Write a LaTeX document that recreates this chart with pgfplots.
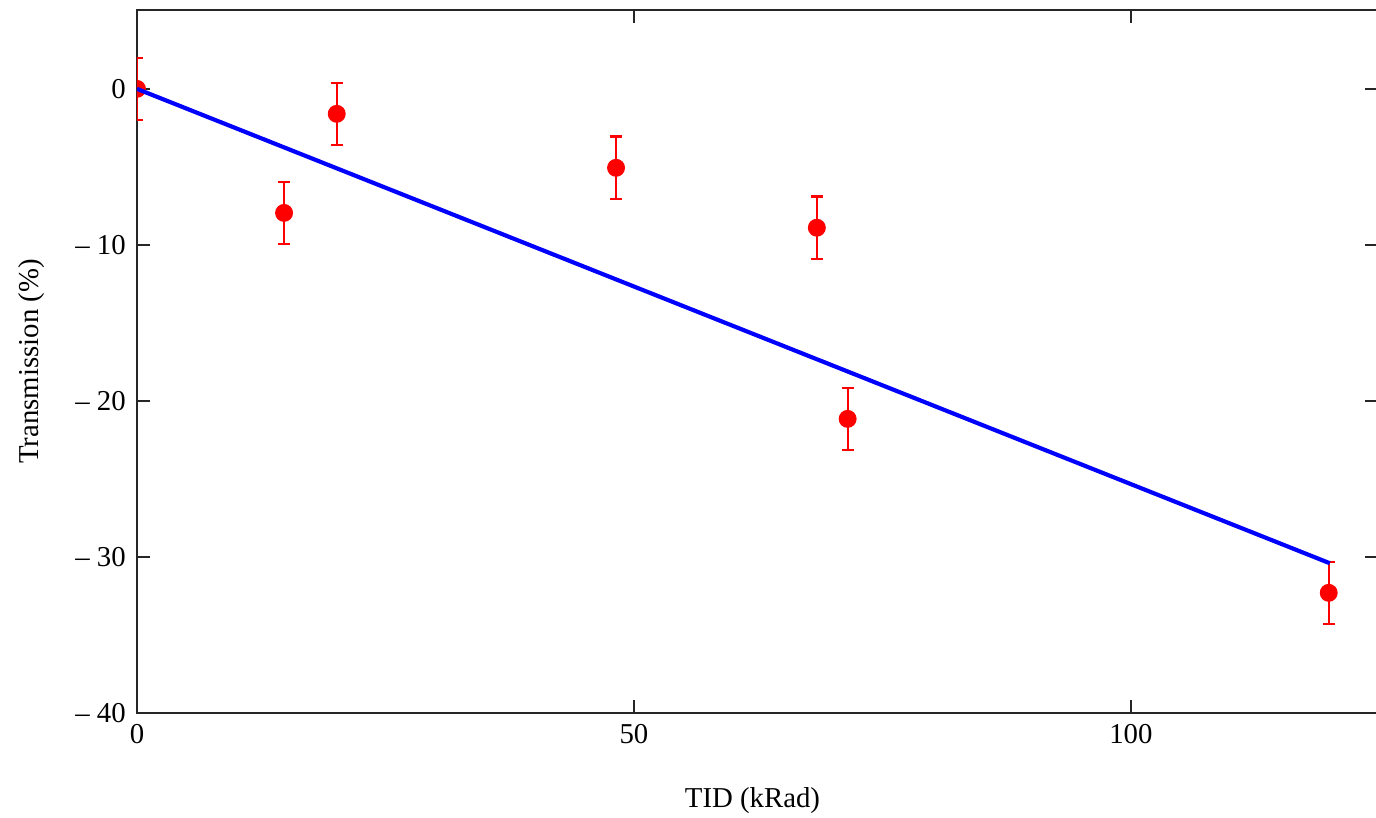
\documentclass[border=0pt]{standalone}
\usepackage{fontspec}
\setmainfont{Liberation Serif}
\usepackage{pgfplots}
\pgfplotsset{compat=1.18}

\begin{document}
\begin{tikzpicture}
\begin{axis}[
  scale only axis,
  width=387.8pt, height=219.7pt,
  xmin=0, xmax=124.85,
  ymin=-40, ymax=5.06,
  xtick={0,50,100},
  ytick={-40,-30,-20,-10,0},
  yticklabels={–~40,–~30,–~20,–~10,0},
  tick align=inside,
  major tick length=4pt,
  axis line style={black!85, line width=0.8pt},
  every tick/.style={black!85, line width=0.8pt},
  font=\fontsize{9}{10}\selectfont,
  /pgf/number format/assume math mode=true,
  xlabel={TID (kRad)},
  ylabel={Transmission (\%)},
  xlabel style={at={(axis description cs:0.496,-0.124)}, anchor=center},
  ylabel style={at={(axis description cs:-0.085,0.5)}, anchor=center},
  clip marker paths=true,
]
% measured transmission change with error bars
\addplot[
  red, only marks, mark=*, mark size=2.6pt,
  mark options={fill=red, draw=red},
  error bars/.cd, y dir=both, y explicit,
  error bar style={red, line width=0.7pt},
  error mark=-,
  error mark options={rotate=90, red, mark size=1.9pt, line width=0.7pt},
] table[x=x, y=y, y error=e] {
x     y      e
0     0      2
14.8  -7.95  2
20.1  -1.6   2
48.2  -5.06  2
68.4  -8.9   2
71.5  -21.15 2
119.9 -32.3  2
};
% linear fit
\addplot[blue, line width=1.3pt] coordinates {(0,0) (120,-30.4)};
\end{axis}
\pgfresetboundingbox
\path[use as bounding box] ([shift={(-42.8pt,-32.8pt)}]current axis.south west) rectangle ++(430pt,255.6pt);
\end{tikzpicture}
\end{document}
